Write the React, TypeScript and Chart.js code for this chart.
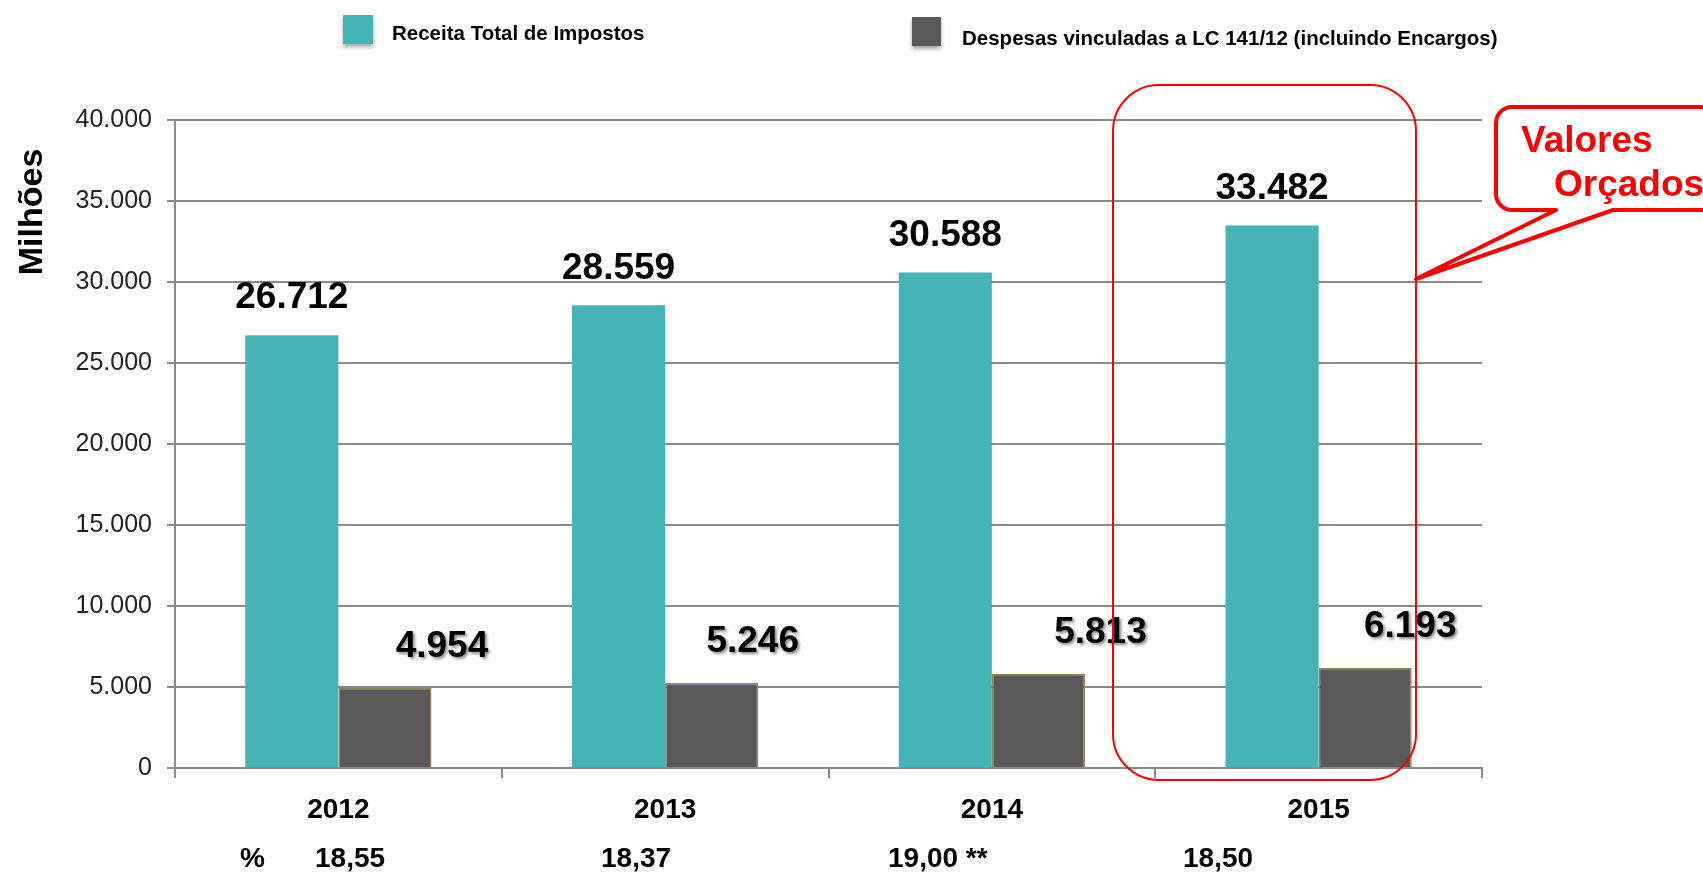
import React, { useEffect, useRef } from "react";
import { Chart, registerables } from "chart.js";

Chart.register(...registerables);

// ---- data ----
const years = ["2012", "2013", "2014", "2015"];
const receitaTotal = [26712, 28559, 30588, 33482];
const despesasLC141 = [4954, 5246, 5813, 6193];
const percentLabels = ["18,55", "18,37", "19,00 **", "18,50"];
const seriesNames = [
  "Receita Total de Impostos",
  "Despesas vinculadas a LC 141/12 (incluindo Encargos)",
];
const yAxisTitle = "Milhões";
const calloutLines = ["Valores", "Orçados"];
const yMin = 0;
const yMax = 40000;
const yStep = 5000;

// ---- styles ----
const TEAL = "#45B4B6";
const DARK = "#595959";
const GRID = "#8a8a8a";
const RED = "#ff0000";
const FONT = "'Liberation Sans', Arial, sans-serif";
const darkLabelShift = [57, 41, 62, 45];
const pctLeft = [315, 601, 888, 1183];

function fmt(n: number): string {
  return String(Math.round(n)).replace(/\B(?=(\d{3})+(?!\d))/g, ".");
}

const overlayPlugin = {
  id: "overlay",
  afterDatasetsDraw(chart: any) {
    const ctx = chart.ctx as CanvasRenderingContext2D;
    const m0 = chart.getDatasetMeta(0);
    const m1 = chart.getDatasetMeta(1);
    ctx.save();
    ctx.font = `bold 37px ${FONT}`;
    ctx.textAlign = "center";
    ctx.textBaseline = "middle";
    ctx.fillStyle = "#000";
    m0.data.forEach((el: any, i: number) => {
      ctx.fillText(fmt(receitaTotal[i]), el.x, el.y - 37);
    });
    ctx.shadowColor = "rgba(0,0,0,0.45)";
    ctx.shadowBlur = 3;
    ctx.shadowOffsetX = 2;
    ctx.shadowOffsetY = 2;
    m1.data.forEach((el: any, i: number) => {
      ctx.fillText(fmt(despesasLC141[i]), el.x + darkLabelShift[i], el.y - 41);
    });
    ctx.restore();
  },
  afterDraw(chart: any) {
    const ctx = chart.ctx as CanvasRenderingContext2D;
    ctx.save();

    // legend
    const legendItems = [
      { color: TEAL, box: [343, 15, 30, 29], tx: 392, ty: 34, text: seriesNames[0] },
      { color: DARK, box: [912, 17, 29, 29], tx: 962, ty: 39, text: seriesNames[1] },
    ];
    legendItems.forEach((it) => {
      ctx.save();
      ctx.shadowColor = "rgba(0,0,0,0.35)";
      ctx.shadowBlur = 4;
      ctx.shadowOffsetY = 3;
      ctx.fillStyle = it.color;
      ctx.fillRect(it.box[0], it.box[1], it.box[2], it.box[3]);
      ctx.restore();
      ctx.font = `bold 20.5px ${FONT}`;
      ctx.fillStyle = "#000";
      ctx.textAlign = "left";
      ctx.textBaseline = "middle";
      ctx.fillText(it.text, it.tx, it.ty);
    });

    // y axis title
    ctx.save();
    ctx.translate(33, 212);
    ctx.rotate(-Math.PI / 2);
    ctx.font = `bold 34px ${FONT}`;
    ctx.fillStyle = "#000";
    ctx.textAlign = "center";
    ctx.textBaseline = "middle";
    ctx.fillText(yAxisTitle, 0, 0);
    ctx.restore();

    // percent row
    ctx.font = `bold 28px ${FONT}`;
    ctx.fillStyle = "#000";
    ctx.textAlign = "left";
    ctx.textBaseline = "middle";
    ctx.fillText("%", 240, 859);
    percentLabels.forEach((t, i) => ctx.fillText(t, pctLeft[i], 859));

    // red rounded box around 2015
    ctx.strokeStyle = RED;
    ctx.lineWidth = 2;
    ctx.beginPath();
    (ctx as any).roundRect(1113, 85, 303, 695, 46);
    ctx.stroke();

    // callout
    const x = 1496, y = 107, R = 1716, B = 210, r = 16;
    ctx.beginPath();
    ctx.moveTo(x + r, y);
    ctx.lineTo(R - r, y);
    ctx.arcTo(R, y, R, y + r, r);
    ctx.lineTo(R, B - r);
    ctx.arcTo(R, B, R - r, B, r);
    ctx.lineTo(1613, B);
    ctx.lineTo(1416, 279);
    ctx.lineTo(1556, B);
    ctx.lineTo(x + r, B);
    ctx.arcTo(x, B, x, B - r, r);
    ctx.lineTo(x, y + r);
    ctx.arcTo(x, y, x + r, y, r);
    ctx.closePath();
    ctx.fillStyle = "#fff";
    ctx.fill();
    ctx.lineWidth = 4;
    ctx.lineJoin = "round";
    ctx.strokeStyle = RED;
    ctx.stroke();

    ctx.font = `bold 37px ${FONT}`;
    ctx.fillStyle = RED;
    ctx.textAlign = "left";
    ctx.textBaseline = "middle";
    ctx.fillText(calloutLines[0], 1521, 142);
    ctx.fillText(calloutLines[1], 1554, 186);

    ctx.restore();
  },
};

export default function App() {
  const canvasRef = useRef<HTMLCanvasElement | null>(null);

  useEffect(() => {
    document.body.style.margin = "0";
    const canvas = canvasRef.current;
    if (!canvas) return;
    const chart = new Chart(canvas, {
      type: "bar",
      data: {
        labels: years,
        datasets: [
          {
            label: seriesNames[0],
            data: receitaTotal,
            backgroundColor: TEAL,
            borderWidth: 0,
          },
          {
            label: seriesNames[1],
            data: despesasLC141,
            backgroundColor: DARK,
            borderColor: "#8c8658",
            borderWidth: 1.5,
          },
        ],
      },
      options: {
        responsive: false,
        devicePixelRatio: 1,
        animation: false,
        events: [],
        layout: { padding: { top: 120, right: 221, left: 0, bottom: 0 } },
        datasets: {
          bar: { categoryPercentage: 0.57, barPercentage: 1.0 },
        },
        plugins: {
          legend: { display: false },
          tooltip: { enabled: false },
          title: { display: false },
        },
        scales: {
          x: {
            type: "category",
            afterFit: (s: any) => {
              s.height = 105;
            },
            grid: {
              offset: true,
              drawOnChartArea: false,
              drawTicks: true,
              tickLength: 10,
              color: GRID,
              lineWidth: 2,
            },
            border: { display: true, color: GRID, width: 2 },
            ticks: {
              color: "#000",
              font: { family: FONT, size: 28, weight: "bold" },
              padding: 15,
            },
          },
          y: {
            min: yMin,
            max: yMax,
            afterFit: (s: any) => {
              s.width = 175;
            },
            grid: {
              color: GRID,
              lineWidth: 2,
              drawTicks: true,
              tickLength: 8,
            },
            border: { display: true, color: GRID, width: 2 },
            ticks: {
              stepSize: yStep,
              color: "#222",
              font: { family: FONT, size: 25 },
              padding: 15,
              callback: (v: any) => fmt(Number(v)),
            },
          },
        },
      },
      plugins: [overlayPlugin],
    } as any);
    return () => chart.destroy();
  }, []);

  return (
    <div style={{ width: 1703, height: 873 }}>
      <canvas ref={canvasRef} width={1703} height={873} style={{ display: "block" }} />
    </div>
  );
}
